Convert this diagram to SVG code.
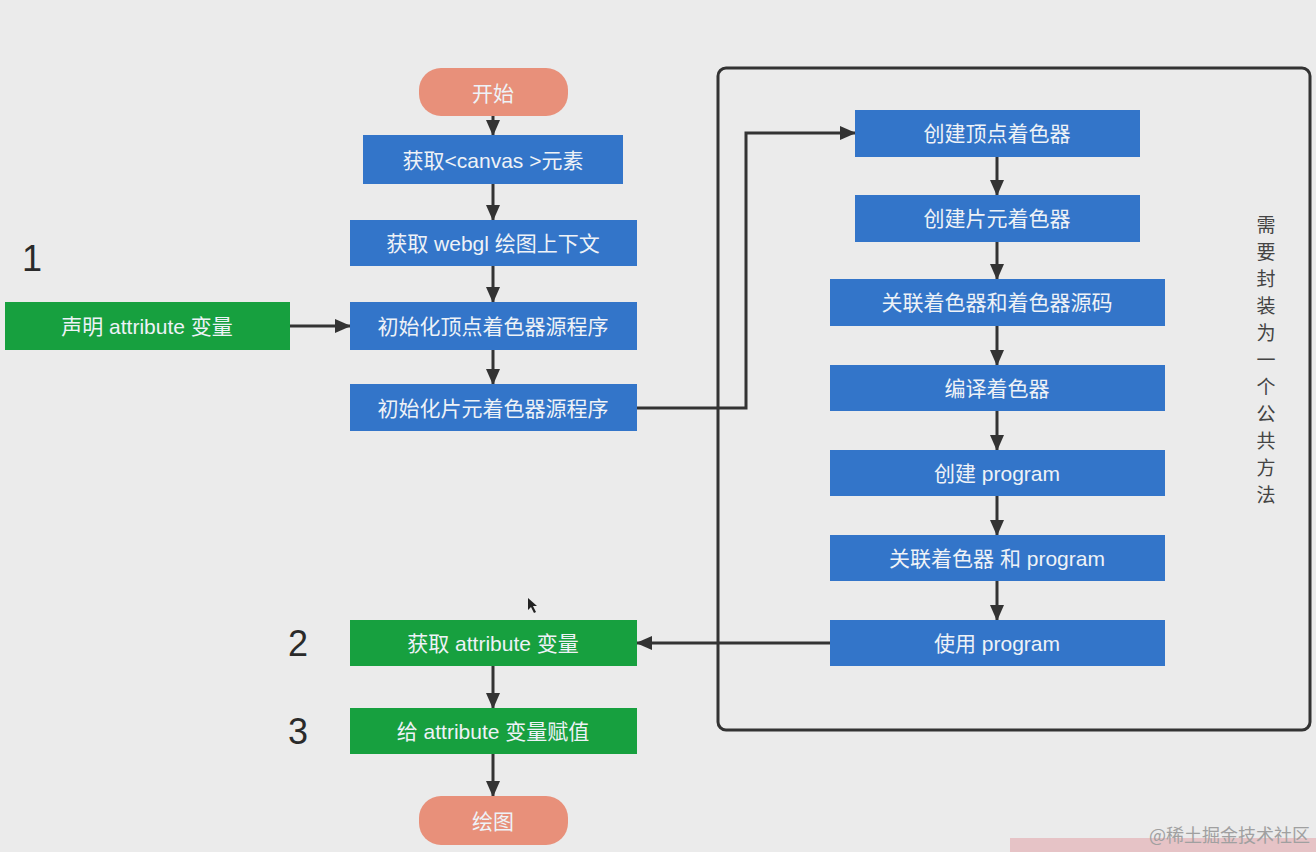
<svg xmlns="http://www.w3.org/2000/svg" width="1316" height="852" viewBox="0 0 1316 852">
<defs>
<marker id="ah" viewBox="0 0 16 14" refX="15" refY="7" markerWidth="16" markerHeight="14" orient="auto" markerUnits="userSpaceOnUse">
<path d="M0,0 L16,7 L0,14 z" fill="#333"/>
</marker>
<style>
.blue{fill:#3375c9}
.green{fill:#17a03f}
.term{fill:#e8907a}
.t{font-family:"Liberation Sans","Noto Sans CJK SC",sans-serif;font-size:21px;fill:#eef2f7;text-anchor:middle;dominant-baseline:central}
.num{font-family:"Liberation Sans","Noto Sans CJK SC",sans-serif;font-size:36px;fill:#2a2a2a;text-anchor:middle;dominant-baseline:central}
.c{fill:none;stroke:#333;stroke-width:3;marker-end:url(#ah)}
.v{font-family:"Noto Sans CJK SC",sans-serif;font-size:19px;fill:#444;text-anchor:middle;dominant-baseline:central}
</style>
</defs>
<rect width="1316" height="852" fill="#ebebeb"/>
<rect x="1010" y="838" width="306" height="14" fill="#e6c3c6"/>
<g id="container"><rect x="718" y="68" width="592" height="662" rx="8" fill="none" stroke="#333" stroke-width="3"/>
<g id="vlabel">
<text class="v" x="1266" y="223">需</text><text class="v" x="1266" y="250">要</text><text class="v" x="1266" y="277">封</text><text class="v" x="1266" y="304">装</text><text class="v" x="1266" y="331">为</text><text class="v" x="1266" y="358">一</text><text class="v" x="1266" y="385">个</text><text class="v" x="1266" y="412">公</text><text class="v" x="1266" y="439">共</text><text class="v" x="1266" y="466">方</text><text class="v" x="1266" y="493">法</text>
</g></g>
<g id="connectors">
<path class="c" d="M493,116 V135"/>
<path class="c" d="M493,184 V220"/>
<path class="c" d="M493,266 V302"/>
<path class="c" d="M493,350 V384"/>
<path class="c" d="M290,326 H350"/>
<path class="c" d="M637,408 H746 V133 H855"/>
<path class="c" d="M997,157 V195"/>
<path class="c" d="M997,242 V279"/>
<path class="c" d="M997,326 V365"/>
<path class="c" d="M997,411 V450"/>
<path class="c" d="M997,496 V535"/>
<path class="c" d="M997,581 V620"/>
<path class="c" d="M830,643 H637"/>
<path class="c" d="M493,666 V708"/>
<path class="c" d="M493,754 V796"/>
</g>
<g id="n-start"><rect class="term" x="419" y="68" width="149" height="48" rx="22"/><text class="t" x="493" y="93">开始</text></g>
<g id="n-canvas"><rect class="blue" x="363" y="135" width="260" height="49"/><text class="t" x="493" y="160">获取&lt;canvas &gt;元素</text></g>
<g id="n-webgl"><rect class="blue" x="350" y="220" width="287" height="46"/><text class="t" x="493" y="243">获取 webgl 绘图上下文</text></g>
<g id="n-vs"><rect class="blue" x="350" y="302" width="287" height="48"/><text class="t" x="493" y="326">初始化顶点着色器源程序</text></g>
<g id="n-fs"><rect class="blue" x="350" y="384" width="287" height="47"/><text class="t" x="493" y="408">初始化片元着色器源程序</text></g>
<g id="n-declare"><rect class="green" x="5" y="302" width="285" height="48"/><text class="t" x="147" y="326">声明 attribute 变量</text></g>
<text class="num" x="32" y="258">1</text>
<g id="n-get"><rect class="green" x="350" y="620" width="287" height="46"/><text class="t" x="493" y="643">获取 attribute 变量</text></g>
<text class="num" x="298" y="643">2</text>
<g id="n-assign"><rect class="green" x="350" y="708" width="287" height="46"/><text class="t" x="493" y="731">给 attribute 变量赋值</text></g>
<text class="num" x="298" y="731">3</text>
<g id="n-end"><rect class="term" x="419" y="796" width="149" height="49" rx="22"/><text class="t" x="493" y="821">绘图</text></g>
<g id="r1"><rect class="blue" x="855" y="110" width="285" height="47"/><text class="t" x="997" y="133">创建顶点着色器</text></g>
<g id="r2"><rect class="blue" x="855" y="195" width="285" height="47"/><text class="t" x="997" y="218">创建片元着色器</text></g>
<g id="r3"><rect class="blue" x="830" y="279" width="335" height="47"/><text class="t" x="997" y="302">关联着色器和着色器源码</text></g>
<g id="r4"><rect class="blue" x="830" y="365" width="335" height="46"/><text class="t" x="997" y="388">编译着色器</text></g>
<g id="r5"><rect class="blue" x="830" y="450" width="335" height="46"/><text class="t" x="997" y="473">创建 program</text></g>
<g id="r6"><rect class="blue" x="830" y="535" width="335" height="46"/><text class="t" x="997" y="558">关联着色器 和 program</text></g>
<g id="r7"><rect class="blue" x="830" y="620" width="335" height="46"/><text class="t" x="997" y="643">使用 program</text></g>
<path d="M528,598 L528,610 L531,607 L534,613 L536,612 L533,606 L537,606 Z" fill="#222"/>
<text x="1310" y="834" font-family="'Noto Sans CJK SC',sans-serif" font-size="18" fill="#a0a0a0" text-anchor="end" dominant-baseline="central">@稀土掘金技术社区</text>
</svg>
